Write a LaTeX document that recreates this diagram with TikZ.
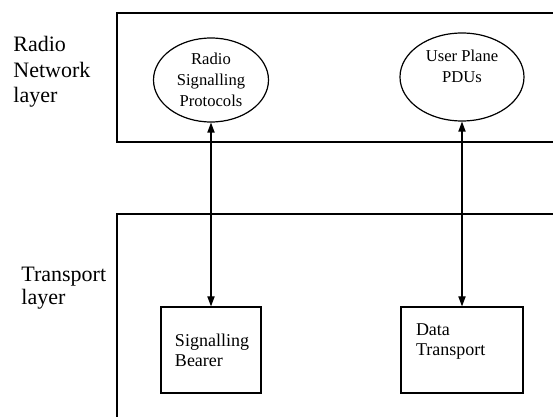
\documentclass[tikz,border=0pt]{standalone}
\usepackage{fontspec}
\setmainfont{Liberation Serif}
\usepackage{tikz}
\usetikzlibrary{shapes,arrows.meta,positioning}

\tikzset{
  layerbox/.style={line width=0.6pt},
  proto/.style={ellipse, draw, line width=0.6pt, align=center, inner sep=0pt, font=\fontsize{8.3}{10.5}\selectfont},
  bearer/.style={rectangle, draw, line width=0.6pt, align=left, inner ysep=0pt, font=\fontsize{9}{10}\selectfont},
  link/.style={line width=0.6pt, {Triangle[length=5pt,width=3.6pt]}-{Triangle[length=5pt,width=3.6pt]}},
  layername/.style={anchor=west, align=left, inner sep=0pt}
}

\begin{document}
\begin{tikzpicture}[x=0.5pt, y=-0.5pt]
    \useasboundingbox (0,0) rectangle (553,417);

    % Radio network layer
    \draw[layerbox] (553,13) -- (117,13) -- (117,142) -- (553,142);
    \node[layername, font=\fontsize{11}{12.75}\selectfont] (rnl) at (13,72) {Radio\\Network\\layer};
    \node[proto, minimum width=57.5pt, minimum height=42pt] (rsp) at (211,80) {Radio\\Signalling\\Protocols};
    \node[proto, minimum width=62pt, minimum height=44pt] (upd) at (462,77) {User Plane\\PDUs\\~};

    % Transport layer
    \draw[layerbox] (553,214) -- (117,214) -- (117,417);
    \node[layername, font=\fontsize{11}{11.5}\selectfont] (tl) at (21,288) {Transport\\layer};
    \node[bearer, inner xsep=7pt, text width=36pt, minimum height=43pt] (sb) at (211,350) {Signalling\\Bearer};
    \node[bearer, inner xsep=7.5pt, text width=46pt, minimum height=43pt] (dt) at (462,350) {Data\\Transport\\~};

    % Links between layers
    \draw[link] (rsp) -- (sb);
    \draw[link] (upd) -- (dt);
\end{tikzpicture}
\end{document}
